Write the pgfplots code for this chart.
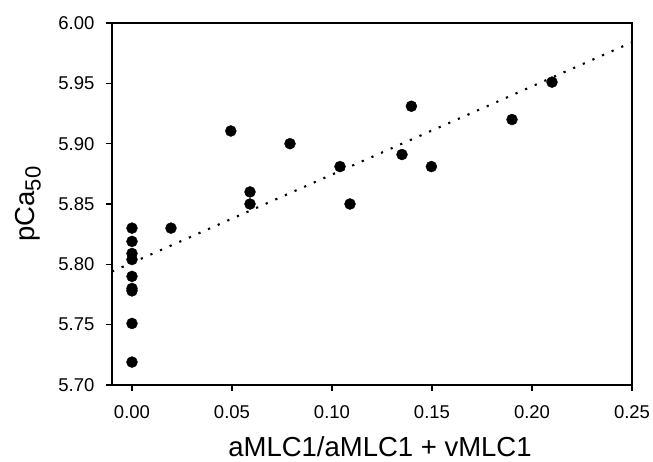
\documentclass[border=0pt]{standalone}
\usepackage{pgfplots}
\pgfplotsset{compat=1.18}
\usepackage{fontspec}
\setmainfont{Liberation Sans}
\begin{document}
\begin{tikzpicture}
\begin{axis}[
  scale only axis,
  width=520pt, height=362pt,
  xmin=-0.01, xmax=0.25, ymin=5.70, ymax=6.00,
  xtick={0,0.05,0.10,0.15,0.20,0.25},
  ytick={5.70,5.75,5.80,5.85,5.90,5.95,6.00},
  xticklabel style={yshift=-11pt,/pgf/number format/.cd,fixed,fixed zerofill,precision=2},
  yticklabel style={xshift=-8pt,/pgf/number format/.cd,fixed,fixed zerofill,precision=2},
  /pgf/number format/assume math mode=true,
  tick align=outside, tick pos=left,
  major tick length=6pt,
  axis line style={line width=1.8pt},
  every tick/.style={line width=1.6pt,black},
  tick label style={font=\fontsize{18.5}{22}\selectfont},
  label style={font=\fontsize{27.5}{31}\selectfont},
  xlabel={aMLC1/aMLC1 + vMLC1},
  ylabel={pCa{\fontsize{22}{25}\selectfont\raisebox{-0.28em}{50}}},
  xlabel style={at={(axis description cs:0.5,-0.171)}, anchor=center, xshift=8pt},
  ylabel style={at={(axis description cs:-0.1615,0.5)}, anchor=center},
]
\addplot[only marks, mark=*, mark size=5.5pt, black] coordinates {
 (0,5.830)(0,5.819)(0,5.809)(0,5.804)(0,5.790)(0,5.780)(0,5.778)(0,5.751)(0,5.719)
 (0.0195,5.83)(0.0494,5.9105)(0.059,5.86)(0.059,5.85)(0.079,5.90)(0.104,5.881)(0.109,5.85)
 (0.135,5.891)(0.1397,5.931)(0.1497,5.881)(0.190,5.920)(0.210,5.951)
};
\addplot[black, line width=2.1pt, dash pattern=on 2.2pt off 8.3pt] coordinates {(-0.01,5.794)(0.25,5.984)};
\end{axis}
\pgfresetboundingbox
\path ([shift={(-112pt,-77pt)}]current axis.south west) rectangle ([shift={(21pt,23pt)}]current axis.north east);
\end{tikzpicture}
\end{document}
